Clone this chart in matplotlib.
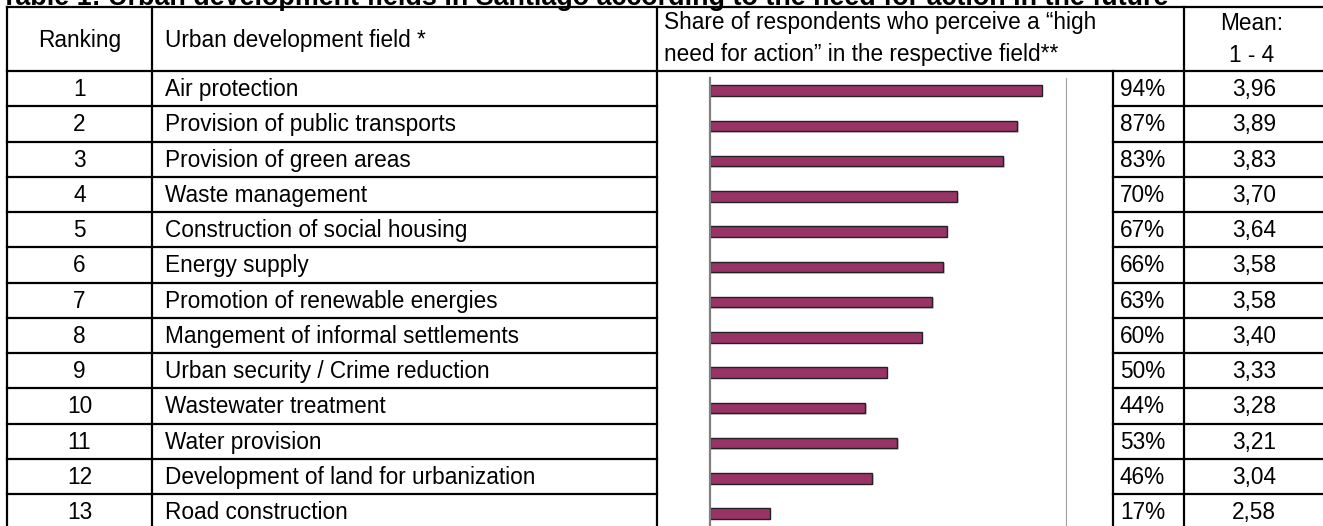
import matplotlib.pyplot as plt

plt.rcParams['font.family'] = ['Liberation Sans', 'DejaVu Sans']

title = 'Table 1: Urban development fields in Santiago according to the need for action in the future'
ranks = list(range(1, 14))
fields = ['Air protection', 'Provision of public transports', 'Provision of green areas',
          'Waste management', 'Construction of social housing', 'Energy supply',
          'Promotion of renewable energies', 'Mangement of informal settlements',
          'Urban security / Crime reduction', 'Wastewater treatment', 'Water provision',
          'Development of land for urbanization', 'Road construction']
share = [94, 87, 83, 70, 67, 66, 63, 60, 50, 44, 53, 46, 17]
means = ['3,96', '3,89', '3,83', '3,70', '3,64', '3,58', '3,58', '3,40',
         '3,33', '3,28', '3,21', '3,04', '2,58']

W, H = 1323, 526
fig = plt.figure(figsize=(W / 100, H / 100), dpi=100)
ax = fig.add_axes([0, 0, 1, 1])
ax.set_xlim(0, W)
ax.set_ylim(H, 0)
ax.axis('off')

# table grid (pixel coords)
x_l, x_rank, x_field, x_pct, x_mean, x_r = 7, 152, 657, 1113, 1184, 1340
y_top, y_head, row_h = 7, 71, 35.25
n = len(fields)
y_bot = y_head + n * row_h
lw = 1.6
fs = 16.3

ax.text(1, 5, title, fontsize=19.4, fontweight='bold', va='baseline', ha='left')

ax.plot([x_l, x_r], [y_top, y_top], 'k', lw=lw)
ax.plot([x_l, x_r], [y_head, y_head], 'k', lw=lw)
for x in [x_l, x_rank, x_field, x_mean]:
    ax.plot([x, x], [y_top, y_bot], 'k', lw=lw)
ax.plot([x_pct, x_pct], [y_head, y_bot], 'k', lw=lw)
for i in range(1, n + 1):
    y = y_head + i * row_h
    ax.plot([x_l, x_field], [y, y], 'k', lw=lw)
    ax.plot([x_pct, x_r], [y, y], 'k', lw=lw)

# header
ax.text((x_l + x_rank) / 2, 40, 'Ranking', fontsize=fs, ha='center', va='center')
ax.text(165, 40, 'Urban development field *', fontsize=fs, ha='left', va='center')
ax.text(664, 23, 'Share of respondents who perceive a \u201chigh', fontsize=fs, ha='left', va='center')
ax.text(664, 55, 'need for action\u201d in the respective field**', fontsize=fs, ha='left', va='center')
ax.text(1252, 23, 'Mean:', fontsize=fs, ha='center', va='center')
ax.text(1252, 55, '1 - 4', fontsize=fs, ha='center', va='center')

for i in range(n):
    yc = y_head + (i + 0.5) * row_h + 1
    ax.text((x_l + x_rank) / 2, yc, str(ranks[i]), fontsize=fs, ha='center', va='center')
    ax.text(165, yc, fields[i], fontsize=fs, ha='left', va='center')
    ax.text(1120, yc, '%d%%' % share[i], fontsize=fs, ha='left', va='center')
    ax.text(1254, yc, means[i], fontsize=fs, ha='center', va='center')

# bar chart inside merged cell
bx0, bx1, by0 = 710, 1066, 78
bax = fig.add_axes([bx0 / W, 1 - y_bot / H, (bx1 - bx0) / W, (y_bot - by0) / H])
bax.set_xlim(0, 100.8)
bax.set_ylim(y_bot, by0)
ypos = [y_head + (i + 0.5) * row_h + 2 for i in range(n)]
bax.barh([y + 1.5 for y in ypos], share, height=10.5, left=0.4, color='#d4d4d4', zorder=1)
bax.barh(ypos, share, height=10.5, color='#993366', edgecolor='#222222', lw=1.0, zorder=2)
bax.set_xticks([])
bax.set_yticks([])
bax.patch.set_alpha(0)
for s in ['top', 'bottom']:
    bax.spines[s].set_visible(False)
bax.spines['left'].set_color('#808080')
bax.spines['left'].set_linewidth(1.6)
bax.spines['right'].set_color('#a0a0a0')
bax.spines['right'].set_linewidth(0.8)

fig.savefig('out.png', dpi=100)
